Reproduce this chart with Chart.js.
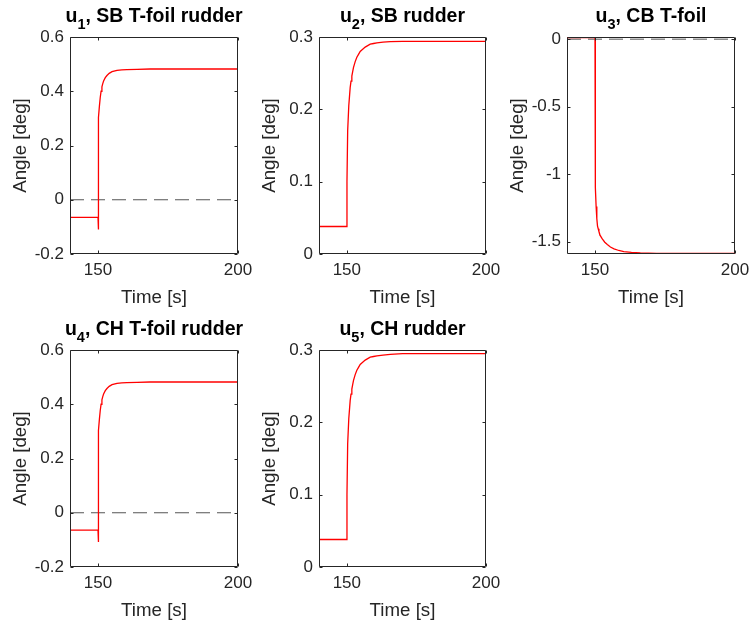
<!DOCTYPE html>
<html><head><meta charset="utf-8">
<script src="https://cdn.jsdelivr.net/npm/chart.js@4.4.1/dist/chart.umd.min.js"></script>
<style>
html,body{margin:0;padding:0;background:#fff;}
body{width:750px;height:626px;position:relative;overflow:hidden;}
canvas{position:absolute;}
</style></head><body>
<canvas id="c1"></canvas><canvas id="c2"></canvas><canvas id="c3"></canvas><canvas id="c4"></canvas><canvas id="c5"></canvas>
<script>
// ---- data ----
const xRange = [140, 200];
const xTicks = [150, 200];
const titleMain = ['u', 'u', 'u', 'u', 'u'];
const titleSub = ['1', '2', '3', '4', '5'];
const titleRest = [', SB T-foil rudder', ', SB rudder', ', CB T-foil', ', CH T-foil rudder', ', CH rudder'];
const xLabel = 'Time [s]';
const yLabel = 'Angle [deg]';

const t1 = [140, 150, 150, 150.1, 150.2, 150.35, 150.5, 150.8, 151.1, 151.4, 151.7, 152, 152.6, 153.2, 154, 155, 156.8, 158.5, 160.3, 164, 168.6, 200];
const u1 = [-0.065, -0.065, -0.11, 0.22, 0.27, 0.303, 0.345, 0.377, 0.4, 0.416, 0.428, 0.438, 0.45, 0.458, 0.466, 0.472, 0.477, 0.479, 0.48, 0.481, 0.482, 0.482];
const yRange1 = [-0.2, 0.6];
const yTicks1 = [-0.2, 0, 0.2, 0.4, 0.6];

const t2 = [140, 150, 150.05, 150.3, 150.7, 151, 151.2, 151.5, 151.8, 152.1, 152.4, 153, 153.6, 154.2, 154.8, 155.7, 156.6, 157.5, 158.4, 159.6, 160.8, 163, 165.6, 170, 200];
const u2 = [0.038, 0.038, 0.1, 0.17, 0.205, 0.22, 0.23, 0.239, 0.246, 0.252, 0.258, 0.266, 0.272, 0.276, 0.28, 0.283, 0.286, 0.288, 0.29, 0.291, 0.292, 0.293, 0.2936, 0.294, 0.294];
const yRange2 = [0, 0.3];
const yTicks2 = [0, 0.1, 0.2, 0.3];

const t3 = [140, 150, 150.05, 150.2, 150.4, 150.65, 150.9, 151.15, 151.4, 151.7, 152, 152.6, 153.5, 154.4, 155.5, 156.8, 158.5, 160.3, 163, 166.2, 172, 200];
const u3 = [0.012, 0.012, -0.73, -1.1, -1.24, -1.33, -1.385, -1.405, -1.425, -1.445, -1.46, -1.48, -1.505, -1.522, -1.54, -1.554, -1.566, -1.574, -1.58, -1.584, -1.587, -1.588];
const yRange3 = [-1.592, 0.016];
const yTicks3 = [-1.5, -1, -0.5, 0];

const t4 = [140, 150, 150, 150.1, 150.2, 150.35, 150.5, 150.8, 151.1, 151.4, 151.7, 152, 152.6, 153.2, 154, 155, 156.8, 158.5, 160.3, 164, 168.6, 200];
const u4 = [-0.064, -0.064, -0.108, 0.22, 0.27, 0.303, 0.345, 0.377, 0.4, 0.416, 0.428, 0.438, 0.45, 0.458, 0.466, 0.472, 0.477, 0.479, 0.48, 0.481, 0.482, 0.482];
const yRange4 = [-0.2, 0.6];
const yTicks4 = [-0.2, 0, 0.2, 0.4, 0.6];

const t5 = [140, 150, 150.05, 150.3, 150.7, 151, 151.2, 151.5, 151.8, 152.1, 152.4, 153, 153.6, 154.2, 154.8, 155.7, 156.6, 157.5, 158.4, 159.6, 160.8, 163, 165.6, 170, 200];
const u5 = [0.038, 0.038, 0.1, 0.17, 0.205, 0.22, 0.23, 0.239, 0.246, 0.252, 0.258, 0.266, 0.272, 0.276, 0.28, 0.283, 0.286, 0.288, 0.29, 0.291, 0.292, 0.293, 0.294, 0.295, 0.295];
const yRange5 = [0, 0.3];
const yTicks5 = [0, 0.1, 0.2, 0.3];
const zeroLevel = [0, 0];

// ---- layout ----
const FONT = '"Liberation Sans", Arial, Helvetica, sans-serif';
const LEFT = 70, TOP = 37, BOTTOM = 56, RIGHTPAD = 32;
const panels = [
  {id:'c1', k:0, t:t1, v:u1, yr:yRange1, yt:yTicks1, box:[70, 37, 238, 254]},
  {id:'c2', k:1, t:t2, v:u2, yr:yRange2, yt:yTicks2, box:[319, 37, 486, 254]},
  {id:'c3', k:2, t:t3, v:u3, yr:yRange3, yt:yTicks3, box:[567, 37, 735, 254]},
  {id:'c4', k:3, t:t4, v:u4, yr:yRange4, yt:yTicks4, box:[70, 350, 238, 567]},
  {id:'c5', k:4, t:t5, v:u5, yr:yRange5, yt:yTicks5, box:[319, 350, 486, 567]}
];

const framePlugin = {
  id: 'frame',
  afterDatasetsDraw(chart) {
    const {ctx, chartArea: a, scales: {x, y}} = chart;
    ctx.save();
    ctx.strokeStyle = '#262626';
    ctx.lineWidth = 1;
    const L = Math.round(a.left) + 0.5, R = Math.round(a.right) - 0.5;
    const T = Math.round(a.top) + 0.5, B = Math.round(a.bottom) - 0.5;
    ctx.beginPath();
    ctx.rect(L, T, R - L, B - T);
    const tl = 3;
    x.ticks.forEach(tk => {
      const px = Math.round(x.getPixelForValue(tk.value)) + 0.5;
      ctx.moveTo(px, B); ctx.lineTo(px, B - tl);
      ctx.moveTo(px, T); ctx.lineTo(px, T + tl);
    });
    y.ticks.forEach(tk => {
      const py = Math.round(y.getPixelForValue(tk.value)) + 0.5;
      ctx.moveTo(L, py); ctx.lineTo(L + tl, py);
      ctx.moveTo(R, py); ctx.lineTo(R - tl, py);
    });
    ctx.stroke();
    ctx.restore();
  }
};

// Title with a true subscript, centred over the plot area
const subTitlePlugin = {
  id: 'subTitle',
  afterDraw(chart, args, opts) {
    const {ctx, chartArea: a} = chart;
    const big = 'bold 19.5px ' + FONT, small = 'bold 14.5px ' + FONT;
    ctx.save();
    ctx.fillStyle = '#000000';
    ctx.textBaseline = 'alphabetic';
    ctx.textAlign = 'left';
    ctx.font = big;
    const w1 = ctx.measureText(opts.main).width;
    const w3 = ctx.measureText(opts.rest).width;
    ctx.font = small;
    const w2 = ctx.measureText(opts.sub).width;
    const total = w1 + w2 + w3;
    let x = (a.left + a.right) / 2 - total / 2;
    const base = a.top - 15;
    ctx.font = big; ctx.fillText(opts.main, x, base); x += w1;
    ctx.font = small; ctx.fillText(opts.sub, x, base + 7); x += w2;
    ctx.font = big; ctx.fillText(opts.rest, x, base);
    ctx.restore();
  }
};

panels.forEach(p => {
  const [x0, y0, x1, y1] = p.box;
  const cv = document.getElementById(p.id);
  const w = (x1 - x0) + LEFT + RIGHTPAD;
  const h = (y1 - y0) + TOP + BOTTOM;
  cv.width = w; cv.height = h;
  cv.style.width = w + 'px'; cv.style.height = h + 'px';
  cv.style.left = (x0 - LEFT) + 'px';
  cv.style.top = (y0 - TOP) + 'px';

  new Chart(cv, {
    type: 'line',
    data: {
      datasets: [
        {data: p.t.map((t, i) => ({x: t, y: p.v[i]})), borderColor: '#ff0000', borderWidth: 1.3,
         pointRadius: 0, tension: 0, order: 0},
        {data: xRange.map((x, i) => ({x: x, y: zeroLevel[i]})), borderColor: '#555555', borderWidth: 1,
         borderDash: [14, 7], pointRadius: 0, tension: 0, order: 1}
      ]
    },
    options: {
      responsive: false, animation: false, devicePixelRatio: 1,
      layout: {padding: {left: 0, top: TOP, right: RIGHTPAD, bottom: 0}},
      plugins: {
        legend: {display: false}, tooltip: {enabled: false}, title: {display: false},
        subTitle: {main: titleMain[p.k], sub: titleSub[p.k], rest: titleRest[p.k]}
      },
      scales: {
        x: {
          type: 'linear', min: xRange[0], max: xRange[1],
          grid: {display: false, drawTicks: false}, border: {display: false},
          afterBuildTicks: s => { s.ticks = xTicks.map(v => ({value: v})); },
          afterFit: s => { s.height = BOTTOM; },
          ticks: {color: '#262626', font: {family: FONT, size: 17}, padding: 6, maxRotation: 0, autoSkip: false,
                  callback: v => String(v)},
          title: {display: true, text: xLabel, color: '#262626', font: {family: FONT, size: 18.7, lineHeight: 1.2},
                  padding: {top: 0, bottom: 1.3}}
        },
        y: {
          type: 'linear', min: p.yr[0], max: p.yr[1],
          grid: {display: false, drawTicks: false}, border: {display: false},
          afterBuildTicks: s => { s.ticks = p.yt.map(v => ({value: v})); },
          afterFit: s => { s.width = LEFT; },
          ticks: {color: '#262626', font: {family: FONT, size: 17}, padding: 6, autoSkip: false,
                  callback: v => String(v)},
          title: {display: true, text: yLabel, color: '#262626', font: {family: FONT, size: 18.7, lineHeight: 1.2},
                  padding: {top: 10, bottom: 0}}
        }
      }
    },
    plugins: [framePlugin, subTitlePlugin]
  });
});
</script>
</body></html>
